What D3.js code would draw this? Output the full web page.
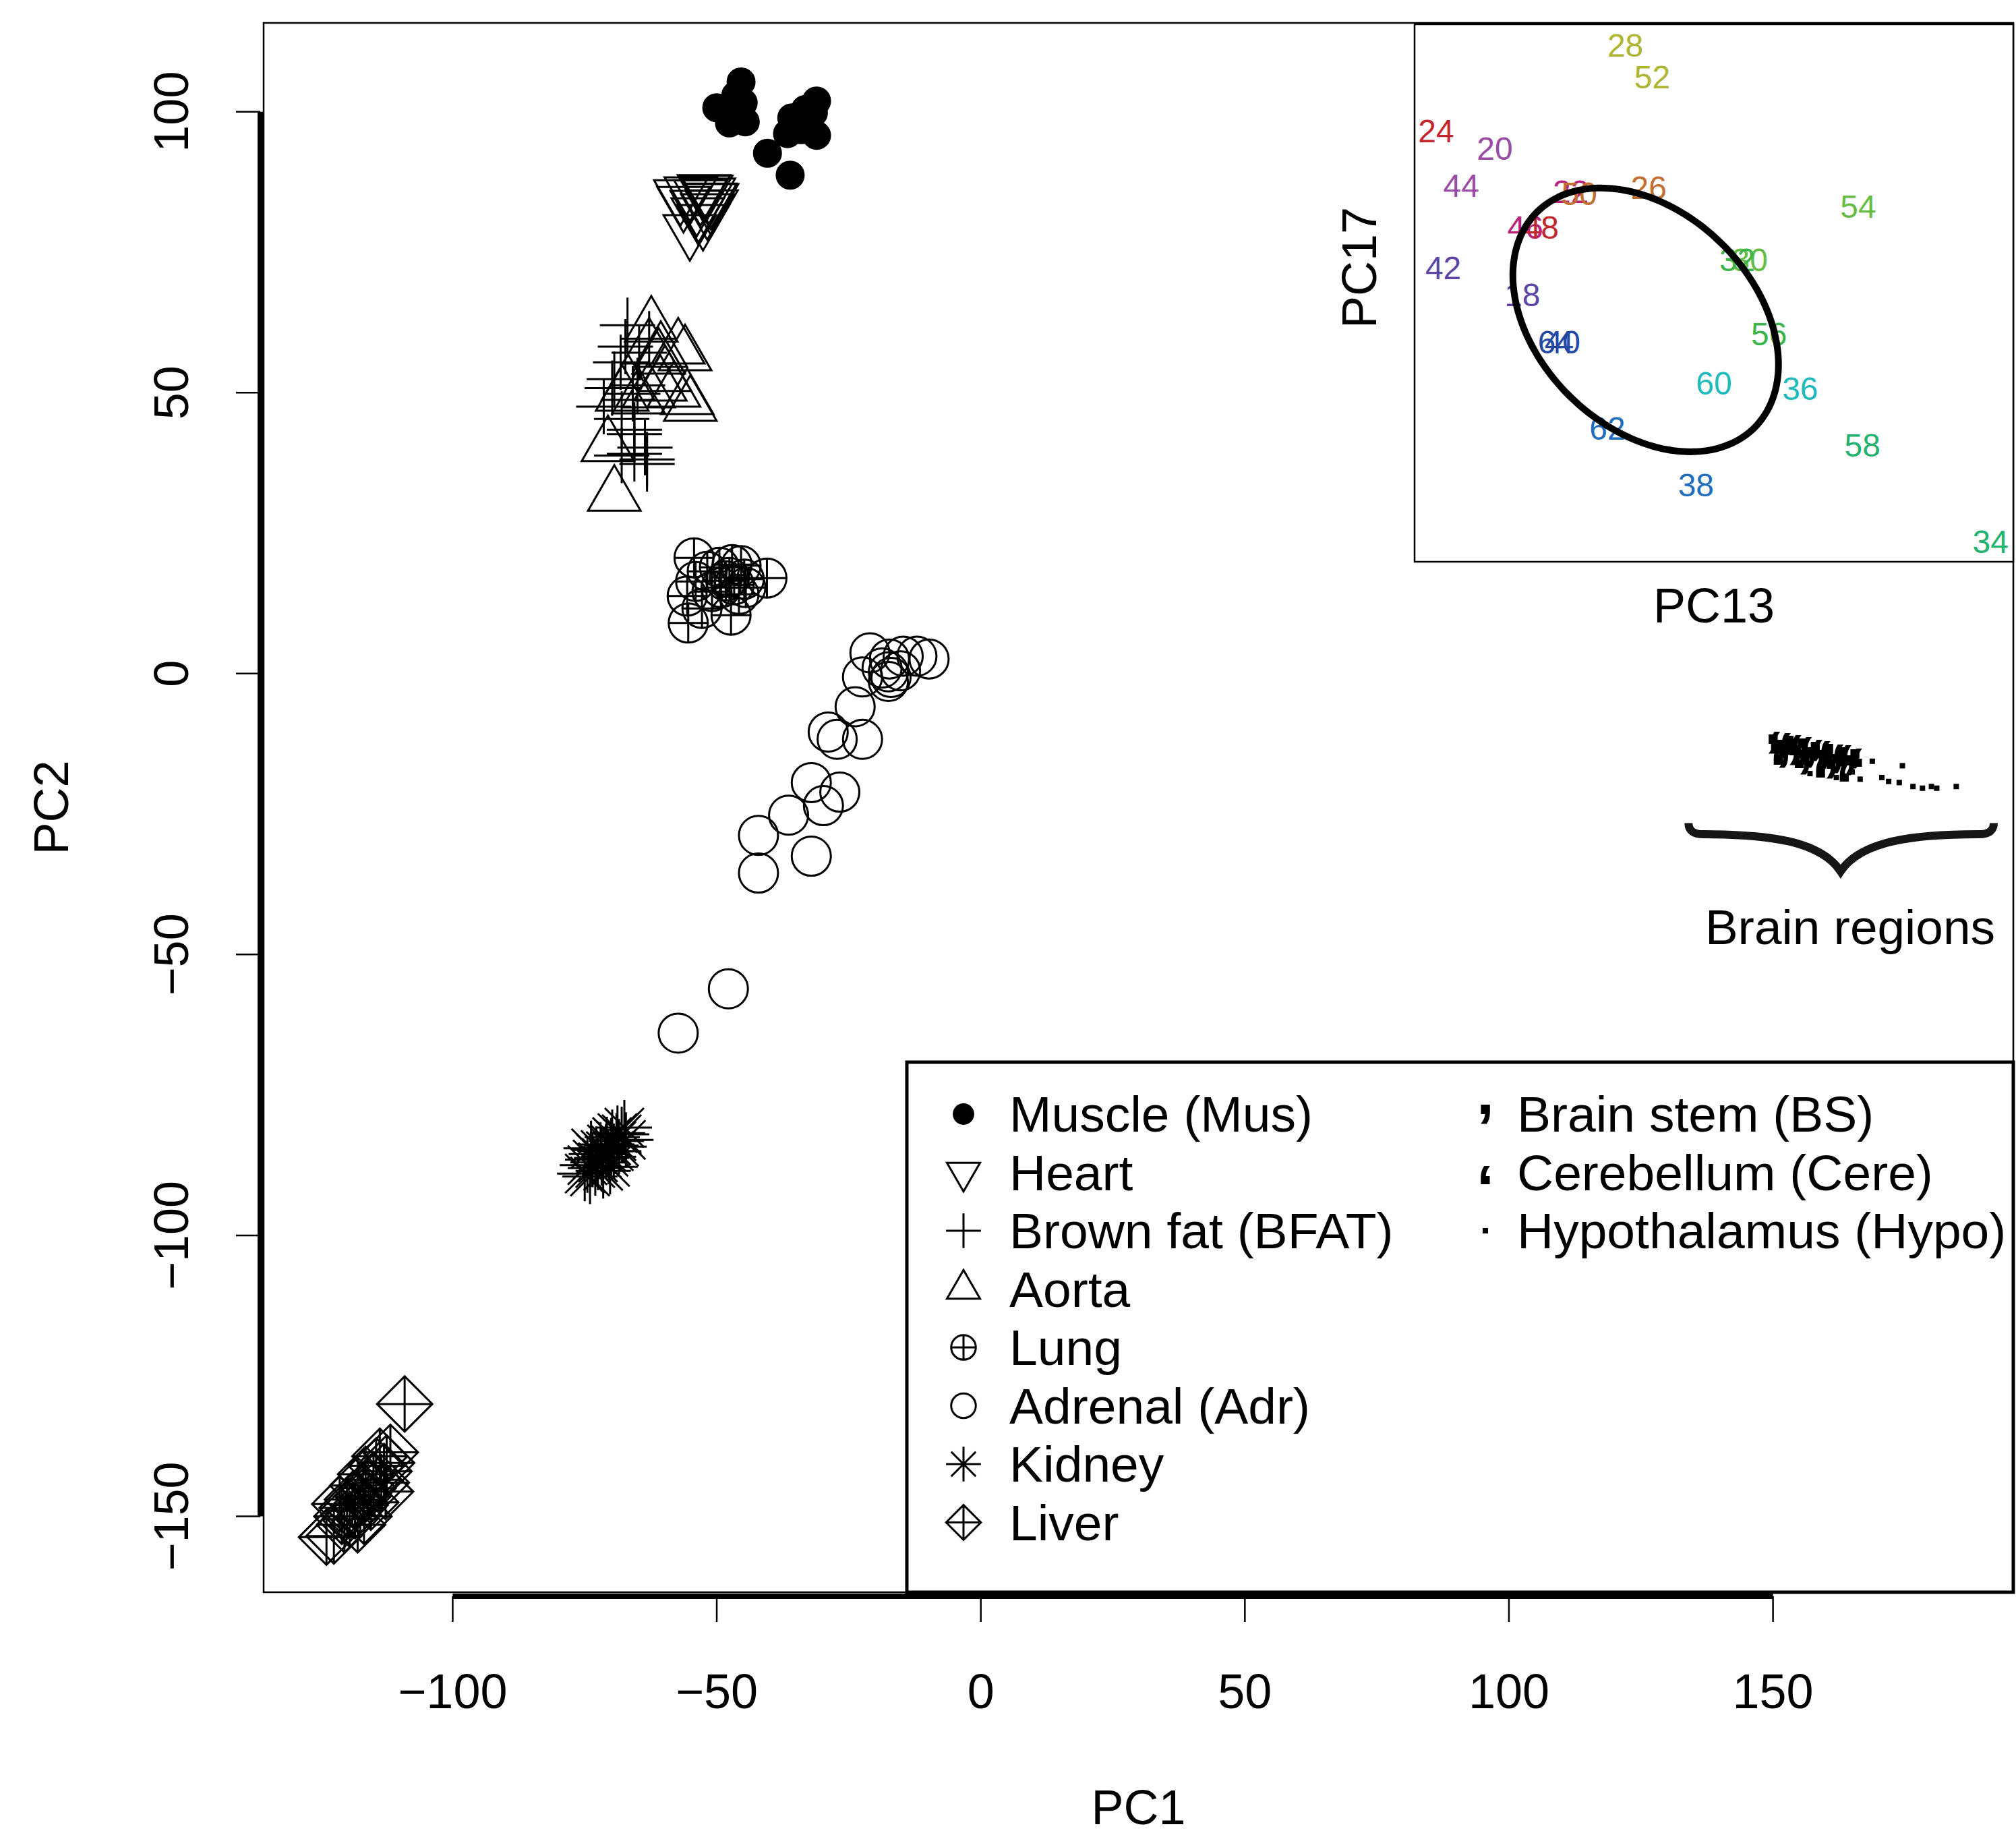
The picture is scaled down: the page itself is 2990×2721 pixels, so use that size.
<!DOCTYPE html>
<html>
<head>
<meta charset="utf-8">
<script src="https://cdn.jsdelivr.net/npm/d3@7"></script>
<style>
  body { margin: 0; background: #fff; }
  text { font-family: "Liberation Sans", Arial, Helvetica, sans-serif; }
</style>
</head>
<body>
<script>
// ---- data (PC1, PC2) ----
var muscle = [[-45.4,105.3],[-50.0,100.7],[-45.0,101.6],[-47.6,98.0],[-44.6,98.2],[-46.4,102.9],
  [-35.8,98.9],[-31.1,101.9],[-31.7,99.8],[-33.2,100.4],[-36.6,96.1],[-34.0,96.8],[-31.1,95.8],
  [-40.4,92.6],[-36.1,88.7]];
var heart = [[-55.1,78.9],[-52.6,80.7],[-51.8,82.6],[-53.8,83.2],[-50.9,84.4],[-54.9,85.6],
  [-53.1,85.1],[-51.5,85.4],[-51.2,84.5],[-56.3,83.9],[-52.0,85.9],[-51.0,83.3],[-53.6,81.9],
  [-56.9,85.1],[-52.4,86.0]];
var bfat = [[-66.9,62.0],[-62.8,59.6],[-67.3,58.2],[-64.7,57.1],[-68.2,55.4],[-69.4,52.4],
  [-69.8,50.8],[-71.4,47.5],[-68.0,45.3],[-65.6,43.4],[-65.6,42.6],[-63.6,40.2],[-65.6,39.1],
  [-63.2,38.1],[-63.2,37.3],[-68.0,38.8],[-65.9,49.8],[-65.0,51.3]];
var aorta = [[-62.4,61.8],[-62.8,57.9],[-60.6,57.3],[-57.3,57.9],[-56.0,56.7],[-61.0,56.1],
  [-55.6,48.9],[-70.6,40.5],[-69.4,31.7],[-55.0,47.7],[-58.1,50.2],[-66.8,51.4],[-67.9,49.5],
  [-64.8,49.0],[-62.9,50.1],[-60.7,51.3],[-59.8,53.0]];
var lung = [[-54.3,20.6],[-40.5,17.0],[-55.4,9.0],[-47.3,10.4],[-52.8,11.6],[-55.6,13.8],
  [-54.0,16.4],[-51.8,18.2],[-49.5,18.9],[-47.1,19.4],[-45.4,19.2],[-44.8,16.8],[-44.5,15.3],
  [-48.3,16.5],[-47.6,17.1],[-49.2,15.3],[-46.7,15.8],[-50.9,14.6],[-45.8,14.1]];
var adrenal = [[-21.0,3.7],[-17.3,2.6],[-14.7,3.1],[-12.1,3.1],[-9.8,2.6],[-22.4,-0.6],
  [-18.7,1.0],[-17.0,-0.7],[-17.5,0.3],[-15.2,0.5],[-17.5,-1.4],[-23.8,-5.9],[-28.9,-10.4],
  [-27.2,-11.7],[-22.4,-11.7],[-32.1,-19.4],[-26.7,-21.1],[-29.8,-23.5],[-36.4,-25.2],
  [-42.1,-28.8],[-32.1,-32.5],[-42.1,-35.5],[-47.8,-56.1],[-57.3,-64.0]];
var kidney = [[-75.0,-89.0],[-74.5,-87.5],[-74.0,-89.5],[-73.5,-86.5],[-73.0,-88.0],[-72.8,-85.5],
  [-72.5,-87.0],[-72.0,-84.8],[-71.8,-86.2],[-71.5,-88.5],[-71.0,-85.0],[-70.8,-83.8],[-70.5,-86.0],
  [-70.0,-84.0],[-69.8,-82.5],[-69.5,-85.0],[-69.0,-83.2],[-68.8,-81.8],[-68.5,-84.2],[-68.0,-82.0],
  [-67.5,-80.8],[-67.2,-83.0],[-73.8,-84.5],[-70.2,-87.8]];
var liver = [[-109.1,-130.0],[-111.8,-138.6],[-113.8,-139.3],[-123.9,-153.7],[-122.5,-153.5],
  [-121.4,-147.8],[-112.7,-145.6],[-112.5,-140.5],[-113.0,-142.0],[-114.5,-141.0],[-115.0,-143.5],
  [-116.0,-145.0],[-116.5,-142.5],[-117.0,-146.5],[-117.5,-148.0],[-118.0,-144.5],[-118.5,-149.0],
  [-119.0,-147.0],[-119.5,-150.5],[-120.0,-148.5],[-120.5,-151.5],[-121.0,-150.0],[-115.5,-147.5],
  [-113.5,-144.0],[-118.0,-151.5],[-116.8,-150.0]];
var brainStem = [[150,-12.5],[151.5,-13.5],[153,-12.8],[154,-14.5],[155.5,-13.2],[157,-15.0],
  [158,-13.8],[159.5,-15.5],[160.5,-14.2],[162,-16.0],[163,-14.8],[164.5,-16.3],[165.5,-15.2],
  [152,-15.0],[156,-16.2],[161,-17.0]];
var cerebellum = [[150.5,-11.5],[152.5,-11.8],[154.5,-12.2],[156.5,-12.5],[158.5,-13.0],[160,-13.2],
  [162.5,-13.8],[164,-14.0],[166,-14.5],[151,-14.2],[155,-14.8],[159,-16.5],[163.5,-17.2]];
var hypothalamus = [[168.8,-15.6],[174.5,-16.4],[170.6,-18.5],[171.9,-19.2],[173.9,-19.4],
  [176.5,-20.1],[178.3,-20.4],[180,-20.1],[181,-20.4],[184.7,-20.1],[157,-17.8],[162,-18.5],
  [165,-17.5],[166.5,-18.8]];

var xTicks = [-100, -50, 0, 50, 100, 150];
var yTicks = [-150, -100, -50, 0, 50, 100];

var tissueNames = ["Muscle (Mus)", "Heart", "Brown fat (BFAT)", "Aorta", "Lung",
  "Adrenal (Adr)", "Kidney", "Liver"];
var brainNames = ["Brain stem (BS)", "Cerebellum (Cere)", "Hypothalamus (Hypo)"];

// inset: ages (labels) with PC13 / PC17 in arbitrary inset units 0..100
var insetAges = [18, 20, 22, 24, 26, 28, 30, 32, 34, 36, 38, 40, 42, 44, 46, 48, 50, 52, 54, 56, 58, 60, 62, 64];
var insetPC13 = [18.0, 13.4, 26.1, 3.6, 39.1, 35.2, 56.0, 53.9, 96.2, 64.4, 47.0, 24.7, 4.8, 7.8, 18.5, 21.1, 27.5, 39.7, 74.1, 59.2, 74.8, 50.0, 32.2, 23.6];
var insetPC17 = [49.6, 76.9, 68.8, 80.1, 69.6, 96.1, 56.2, 56.2, 3.7, 32.2, 14.3, 40.9, 54.7, 69.9, 62.2, 62.2, 68.5, 90.1, 66.1, 42.3, 21.6, 33.2, 24.8, 40.9];
// colour per age within the 24-week cycle (18/42, 20/44, ... 40/64)
var agePalette = ["#5b46a6", "#9a4ba3", "#b8227c", "#c1272d", "#c27030", "#adb533",
  "#66bd45", "#3bb54a", "#23b26f", "#1fbabb", "#1f6dbd", "#2349a3"];
var ellipseCenter = [38.6, 45.0];
var ellipseCov = [[492, -184], [-184, 602]];

// ---- layout ----
var W = 2990, H = 2721;
var box = {x0: 391, x1: 2986, y0: 34, y1: 2361};

var svg = d3.select("body").append("svg")
  .attr("width", W).attr("height", H)
  .style("background", "#fff");

var x = d3.scaleLinear().domain([-135.8, 195.5]).range([box.x0, box.x1]);
var y = d3.scaleLinear().domain([-163.5, 115.8]).range([box.y1, box.y0]);

var LW = 3;

// R-like point symbols as path strings around (0,0)
function circ(r) {
  return "M" + (-r) + ",0A" + r + "," + r + " 0 1,0 " + r + ",0A" + r + "," + r + " 0 1,0 " + (-r) + ",0Z";
}
function symbol(type, s) {
  var R = 29 * s, T = 45 * s, D = 41 * s;
  var h = T * Math.sqrt(3) / 2;
  switch (type) {
    case "bullet": return circ(20 * s);
    case "circle": return circ(R);
    case "down": return "M0," + T + "L" + h + "," + (-T / 2) + "L" + (-h) + "," + (-T / 2) + "Z";
    case "up": return "M0," + (-T) + "L" + h + "," + (T / 2) + "L" + (-h) + "," + (T / 2) + "Z";
    case "plus": return "M" + (-D) + ",0H" + D + "M0," + (-D) + "V" + D;
    case "circplus": return circ(R) + "M" + (-R) + ",0H" + R + "M0," + (-R) + "V" + R;
    case "asterisk": return "M" + (-R) + "," + (-R) + "L" + R + "," + R + "M" + (-R) + "," + R + "L" + R + "," + (-R) +
      "M" + (-D) + ",0H" + D + "M0," + (-D) + "V" + D;
    case "diamplus": return "M0," + (-D) + "L" + D + ",0L0," + D + "L" + (-D) + ",0Z" +
      "M" + (-D) + ",0H" + D + "M0," + (-D) + "V" + D;
  }
}

var groups = [
  {data: muscle, type: "bullet"},
  {data: heart, type: "down"},
  {data: bfat, type: "plus"},
  {data: aorta, type: "up"},
  {data: lung, type: "circplus"},
  {data: adrenal, type: "circle"},
  {data: kidney, type: "asterisk"},
  {data: liver, type: "diamplus"}
];

// plot box
svg.append("rect")
  .attr("x", box.x0).attr("y", box.y0)
  .attr("width", box.x1 - box.x0).attr("height", box.y1 - box.y0)
  .attr("fill", "none").attr("stroke", "#000").attr("stroke-width", 2.5);

var gPts = svg.append("g");
groups.forEach(function (g) {
  gPts.selectAll(null)
    .data(g.data)
    .enter()
    .append("path")
    .attr("transform", function (d) { return "translate(" + x(d[0]) + "," + y(d[1]) + ")"; })
    .attr("d", symbol(g.type, 1))
    .attr("fill", g.type === "bullet" ? "#000" : "none")
    .attr("stroke", "#000")
    .attr("stroke-width", LW);
});

// brain regions: character symbols and dots
gPts.selectAll(null).data(hypothalamus).enter().append("rect")
  .attr("x", function (d) { return x(d[0]) - 4; })
  .attr("y", function (d) { return y(d[1]) - 4; })
  .attr("width", 8).attr("height", 8).attr("fill", "#000");
gPts.selectAll(null).data(cerebellum).enter().append("text")
  .attr("x", function (d) { return x(d[0]); })
  .attr("y", function (d) { return y(d[1]) + 55; })
  .attr("text-anchor", "middle")
  .style("font-size", "95px").style("font-weight", "bold")
  .text("\u2018");
gPts.selectAll(null).data(brainStem).enter().append("text")
  .attr("x", function (d) { return x(d[0]); })
  .attr("y", function (d) { return y(d[1]); })
  .attr("text-anchor", "middle")
  .style("font-size", "95px").style("font-weight", "bold")
  .text(",");

// brace under the brain cluster
var braceX = [134.0, 162.8, 191.8];
var braceY = [-26.6, -28.6, -35.2];
var bp = d3.path();
var bl = x(braceX[0]), bm = x(braceX[1]), br = x(braceX[2]);
var bt = y(braceY[0]), bh = y(braceY[1]), bb = y(braceY[2]);
bp.moveTo(bl, bt);
bp.quadraticCurveTo(bl, bh, bl + 22, bh);
bp.bezierCurveTo(bl + 120, bh, bm - 30, bh + 10, bm, bb);
bp.bezierCurveTo(bm + 30, bh + 10, br - 120, bh, br - 22, bh);
bp.quadraticCurveTo(br, bh, br, bt);
svg.append("path").attr("d", bp.toString())
  .attr("fill", "none").attr("stroke", "#161616").attr("stroke-width", 12);
svg.append("text")
  .attr("x", x(164.6)).attr("y", y(-48.2))
  .attr("text-anchor", "middle")
  .style("font-size", "73px")
  .text("Brain regions");

// axes (R style, detached thick lines)
var axisX = 2367, axisYx = 386;
svg.append("line")
  .attr("x1", x(xTicks[0])).attr("x2", x(xTicks[xTicks.length - 1]))
  .attr("y1", axisX).attr("y2", axisX)
  .attr("stroke", "#000").attr("stroke-width", 8);
svg.selectAll(null).data(xTicks).enter().append("line")
  .attr("x1", function (d) { return x(d); }).attr("x2", function (d) { return x(d); })
  .attr("y1", axisX).attr("y2", axisX + 38)
  .attr("stroke", "#000").attr("stroke-width", 2.5);
svg.selectAll(null).data(xTicks).enter().append("text")
  .attr("x", function (d) { return x(d); }).attr("y", 2508)
  .attr("text-anchor", "middle").attr("dominant-baseline", "central")
  .style("font-size", "72px")
  .text(function (d) { return d < 0 ? "\u2212" + Math.abs(d) : d; });

svg.append("line")
  .attr("x1", axisYx).attr("x2", axisYx)
  .attr("y1", y(yTicks[0])).attr("y2", y(yTicks[yTicks.length - 1]))
  .attr("stroke", "#000").attr("stroke-width", 8);
svg.selectAll(null).data(yTicks).enter().append("line")
  .attr("x1", axisYx).attr("x2", axisYx - 36)
  .attr("y1", function (d) { return y(d); }).attr("y2", function (d) { return y(d); })
  .attr("stroke", "#000").attr("stroke-width", 2.5);
svg.selectAll(null).data(yTicks).enter().append("text")
  .attr("transform", function (d) { return "translate(254," + y(d) + ") rotate(-90)"; })
  .attr("text-anchor", "middle").attr("dominant-baseline", "central")
  .style("font-size", "72px")
  .text(function (d) { return d < 0 ? "\u2212" + Math.abs(d) : d; });

svg.append("text")
  .attr("x", (box.x0 + box.x1) / 2).attr("y", 2680)
  .attr("text-anchor", "middle").attr("dominant-baseline", "central")
  .style("font-size", "72px").text("PC1");
svg.append("text")
  .attr("transform", "translate(76," + ((box.y0 + box.y1) / 2) + ") rotate(-90)")
  .attr("text-anchor", "middle").attr("dominant-baseline", "central")
  .style("font-size", "72px").text("PC2");

// ---- legend ----
var leg = {x0: 1345, y0: 1575, x1: 2986, y1: 2361};
svg.append("rect")
  .attr("x", leg.x0).attr("y", leg.y0)
  .attr("width", leg.x1 - leg.x0).attr("height", leg.y1 - leg.y0)
  .attr("fill", "#fff").attr("stroke", "#000").attr("stroke-width", 5);
var rowY0 = 1652, rowStep = 86.5, ls = 0.63;
var gl = svg.append("g");
tissueNames.forEach(function (name, i) {
  var cy = rowY0 + i * rowStep;
  var t = groups[i].type;
  gl.append("path")
    .attr("transform", "translate(1429," + cy + ")")
    .attr("d", symbol(t, t === "bullet" ? 0.72 : ls))
    .attr("fill", t === "bullet" ? "#000" : "none")
    .attr("stroke", "#000").attr("stroke-width", LW);
  gl.append("text")
    .attr("x", 1497).attr("y", cy)
    .attr("dominant-baseline", "central")
    .style("font-size", "75px").text(name);
});
brainNames.forEach(function (name, i) {
  var cy = rowY0 + i * rowStep;
  if (i === 0) {
    gl.append("text").attr("x", 2203).attr("y", cy).attr("text-anchor", "middle")
      .style("font-size", "95px").style("font-weight", "bold").text(",");
  } else if (i === 1) {
    gl.append("text").attr("x", 2203).attr("y", cy + 55).attr("text-anchor", "middle")
      .style("font-size", "95px").style("font-weight", "bold").text("\u2018");
  } else {
    gl.append("rect").attr("x", 2199).attr("y", cy - 4).attr("width", 8).attr("height", 8).attr("fill", "#000");
  }
  gl.append("text")
    .attr("x", 2250).attr("y", cy)
    .attr("dominant-baseline", "central")
    .style("font-size", "75px").text(name);
});

// ---- inset ----
var ins = {x0: 2098, x1: 2986, y0: 36, y1: 833};
var ix = d3.scaleLinear().domain([0, 100]).range([ins.x0, ins.x1]);
var iy = d3.scaleLinear().domain([0, 100]).range([ins.y1, ins.y0]);
svg.append("rect")
  .attr("x", ins.x0).attr("y", ins.y0)
  .attr("width", ins.x1 - ins.x0).attr("height", ins.y1 - ins.y0)
  .attr("fill", "#fff").attr("stroke", "#000").attr("stroke-width", 2.5);
svg.append("g").selectAll("text")
  .data(insetAges)
  .enter()
  .append("text")
  .attr("x", function (d, i) { return ix(insetPC13[i]); })
  .attr("y", function (d, i) { return iy(insetPC17[i]); })
  .attr("text-anchor", "middle").attr("dominant-baseline", "central")
  .style("font-size", "48px")
  .attr("fill", function (d) { return agePalette[((d - 18) % 24) / 2]; })
  .text(function (d) { return d; });

// ellipse from centre + covariance (Cholesky)
var a = Math.sqrt(ellipseCov[0][0]);
var b = ellipseCov[0][1] / a;
var c = Math.sqrt(ellipseCov[1][1] - b * b);
var ell = d3.range(0, 361, 3).map(function (deg) {
  var t = deg * Math.PI / 180;
  return [ellipseCenter[0] + a * Math.cos(t), ellipseCenter[1] + b * Math.cos(t) + c * Math.sin(t)];
});
svg.append("path")
  .datum(ell)
  .attr("d", d3.line().x(function (d) { return ix(d[0]); }).y(function (d) { return iy(d[1]); }).curve(d3.curveCardinalClosed))
  .attr("fill", "none").attr("stroke", "#000").attr("stroke-width", 10);

svg.append("text")
  .attr("x", (ins.x0 + ins.x1) / 2).attr("y", 898)
  .attr("text-anchor", "middle").attr("dominant-baseline", "central")
  .style("font-size", "72px").text("PC13");
svg.append("text")
  .attr("transform", "translate(2016,397) rotate(-90)")
  .attr("text-anchor", "middle").attr("dominant-baseline", "central")
  .style("font-size", "72px").text("PC17");
</script>
</body>
</html>
